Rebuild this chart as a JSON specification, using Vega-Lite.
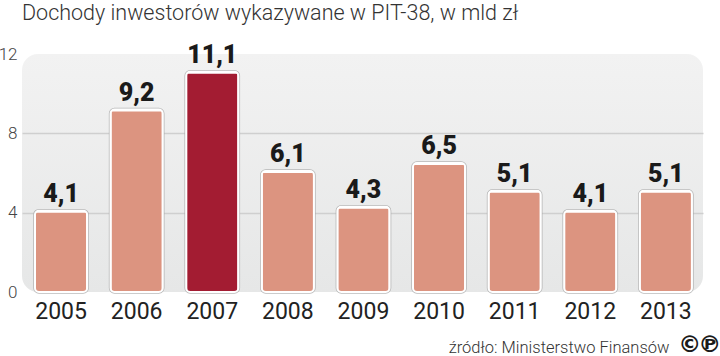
{
"$schema":"https://vega.github.io/schema/vega-lite/v6.json",
"width":681,"height":238,
"autosize":"none",
"padding":{"left":22,"top":54,"right":17,"bottom":64},
"background":"white",
"title":{"text":"Dochody inwestorów wykazywane w PIT-38, w mld zł","anchor":"start","frame":"group","font":"Roboto","fontWeight":300,"fontSize":21.5,"color":"#333333","dy":-1,"dx":0,"offset":0,"baseline":"alphabetic"},
"config":{
"locale":{"number":{"decimal":",","thousands":" ","grouping":[3],"currency":["","zł"]}},
"view":{"stroke":null,"cornerRadius":16,"fill":{"gradient":"linear","x1":0,"y1":0,"x2":0,"y2":1,"stops":[{"offset":0,"color":"#f2f2f2"},{"offset":1,"color":"#e6e7e7"}]}}
},
"data":{"values":[
{"year":"2005","value":4.1,"group":"other"},
{"year":"2006","value":9.2,"group":"other"},
{"year":"2007","value":11.1,"group":"peak"},
{"year":"2008","value":6.1,"group":"other"},
{"year":"2009","value":4.3,"group":"other"},
{"year":"2010","value":6.5,"group":"other"},
{"year":"2011","value":5.1,"group":"other"},
{"year":"2012","value":4.1,"group":"other"},
{"year":"2013","value":5.1,"group":"other"}
]},
"encoding":{
"x":{"field":"year","type":"nominal","scale":{"paddingInner":0.31,"paddingOuter":0.159,"align":0.54},
"axis":{"title":"źródło: Ministerstwo Finansów","titleFont":"Roboto","titleFontWeight":300,"titleFontSize":16.5,"titleColor":"#333333","titleAnchor":"end","titleAlign":"right","titleX":647,"titleY":47,"labelAngle":0,"labelFont":"Roboto","labelFontSize":23,"labelColor":"#222222","labelPadding":8,"domain":false,"ticks":false}},
"y":{"type":"quantitative","scale":{"domain":[0,12],"nice":false},"field":"value"}
},
"layer":[
{"mark":{"type":"bar","width":{"band":1},"stroke":"#a8a8a8","strokeWidth":3.5,"strokeOpacity":0.8,"cornerRadius":4,"fill":"#a8a8a8","yOffset":1},
"encoding":{"y":{"field":"value","type":"quantitative","axis":{"title":null,"values":[0,4,8,12],"labelFont":"Roboto","labelFontWeight":300,"labelFontSize":17,"labelColor":"#444444","labelPadding":5,"domain":false,"ticks":false,"grid":true,"gridColor":"#cfcfcf","gridWidth":1.5,"gridOpacity":{"condition":{"test":"datum.value===4||datum.value===8","value":1},"value":0},"encode":{"labels":{"update":{"dx":{"signal":"datum.value===0?6:0"}}}}}}}},
{"mark":{"type":"bar","width":{"band":1},"stroke":"white","strokeWidth":2,"cornerRadius":4,"yOffset":1},
"encoding":{"color":{"field":"group","type":"nominal","legend":null,"scale":{"domain":["other","peak"],"range":["#dc9480","#a31c32"]}}}},
{"mark":{"type":"text","dy":-4,"baseline":"bottom","font":"Roboto","fontWeight":900,"fontSize":25,"color":"#1a1a1a"},
"encoding":{"text":{"field":"value","type":"quantitative","format":".1f"}}},
{"data":{"values":[{"year":"2013","mark":"©","pos":-2.65}]},
"mark":{"type":"text","font":"DejaVu Sans","fontWeight":"bold","fontSize":23,"color":"#1a1a1a","xOffset":24},
"encoding":{"y":{"field":"pos","type":"quantitative"},"text":{"field":"mark"}}},
{"data":{"values":[{"year":"2013","mark":"℗","pos":-2.65}]},
"mark":{"type":"text","font":"DejaVu Sans","fontWeight":"bold","fontSize":23,"color":"#1a1a1a","xOffset":44},
"encoding":{"y":{"field":"pos","type":"quantitative"},"text":{"field":"mark"}}}
]
}
